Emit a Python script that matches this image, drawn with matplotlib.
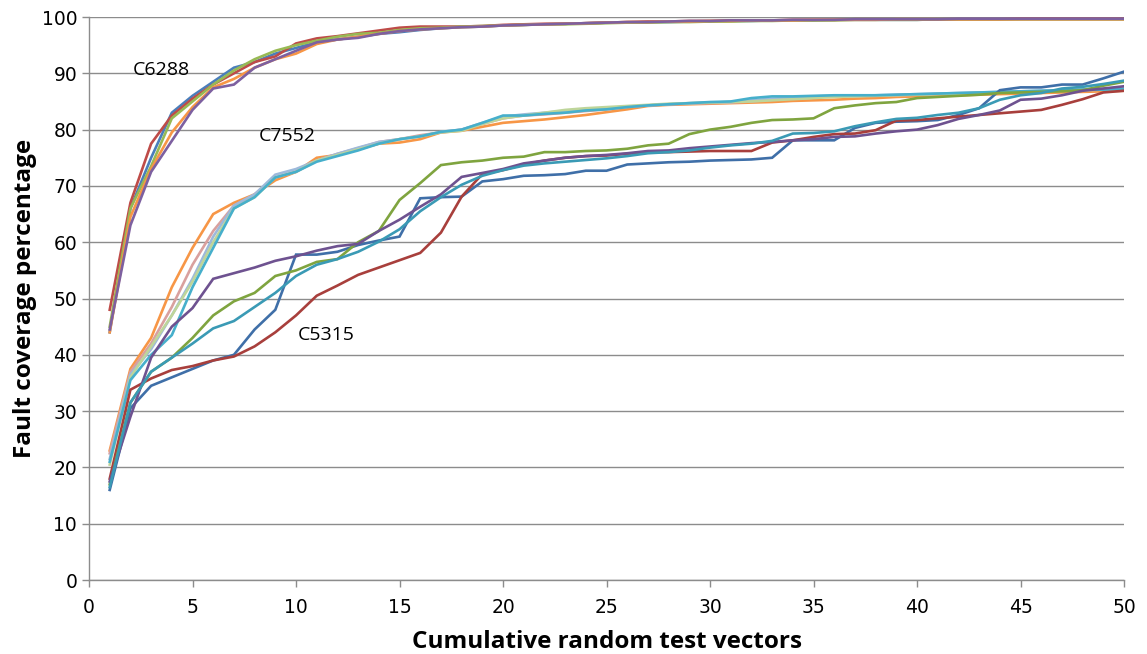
import numpy as np
import matplotlib
matplotlib.use("Agg")
import matplotlib.pyplot as plt

# кумулятивное число случайных тестовых векторов
vectors = np.arange(1, 51)

# C6288 (5 прогонов)
c6288_blue = [44, 66, 75, 83, 86, 88.5, 91, 92, 93.5, 94.5, 95.5, 96, 96.5, 97, 97.3, 97.7, 98, 98.2, 98.3, 98.5,
              98.6, 98.7, 98.8, 98.9, 99, 99, 99.1, 99.1, 99.2, 99.2, 99.3, 99.3, 99.4, 99.4, 99.4, 99.5, 99.5, 99.5, 99.5, 99.5,
              99.6, 99.6, 99.6, 99.6, 99.6, 99.6, 99.6, 99.6, 99.6, 99.6]
c6288_red = [48, 67, 77.5, 82.5, 85.5, 88, 90, 92, 93, 95.3, 96.2, 96.6, 97.1, 97.6, 98.1, 98.3, 98.3, 98.3, 98.4, 98.6,
             98.7, 98.8, 98.8, 98.9, 99, 99.1, 99.2, 99.2, 99.3, 99.3, 99.4, 99.4, 99.4, 99.5, 99.5, 99.5, 99.6, 99.6, 99.6, 99.6,
             99.6, 99.6, 99.6, 99.6, 99.7, 99.7, 99.7, 99.7, 99.7, 99.7]
c6288_green = [45, 66, 73.5, 82, 85, 88, 90.5, 92.5, 94, 95, 95.8, 96.5, 97, 97.2, 97.7, 98, 98.1, 98.3, 98.4, 98.5,
               98.6, 98.7, 98.7, 98.8, 98.9, 99, 99, 99.1, 99.1, 99.2, 99.2, 99.3, 99.3, 99.4, 99.4, 99.4, 99.5, 99.5, 99.5, 99.5,
               99.6, 99.6, 99.6, 99.6, 99.6, 99.6, 99.6, 99.6, 99.6, 99.6]
c6288_orange = [44, 64.5, 73, 79.5, 84, 87.5, 89, 91, 92.5, 93.5, 95.2, 96, 96.5, 97, 97.5, 97.8, 98, 98.2, 98.3, 98.5,
                98.6, 98.7, 98.8, 98.9, 99, 99.1, 99.1, 99.2, 99.2, 99.3, 99.3, 99.4, 99.4, 99.4, 99.5, 99.5, 99.5, 99.5, 99.6, 99.6,
                99.6, 99.6, 99.6, 99.6, 99.6, 99.6, 99.6, 99.6, 99.6, 99.6]
c6288_purple = [44.5, 63, 72.5, 78, 83.5, 87.3, 88, 91, 92.5, 94, 95.5, 96, 96.3, 97, 97.5, 97.8, 98, 98.2, 98.3, 98.5,
                98.6, 98.7, 98.8, 98.9, 99, 99.1, 99.1, 99.2, 99.3, 99.3, 99.4, 99.4, 99.4, 99.5, 99.5, 99.5, 99.6, 99.6, 99.6, 99.6,
                99.6, 99.7, 99.7, 99.7, 99.7, 99.7, 99.7, 99.7, 99.7, 99.7]

# C7552 (5 прогонов)
c7552_orange = [23, 37.5, 43, 52, 59, 65, 67, 68.5, 71, 72.5, 75, 75.5, 76.5, 77.5, 77.7, 78.3, 79.5, 79.8, 80.5, 81.2,
                81.5, 81.8, 82.2, 82.6, 83.1, 83.6, 84.2, 84.4, 84.5, 84.6, 84.7, 84.8, 84.9, 85.1, 85.2, 85.3, 85.5, 85.6, 85.8, 85.9,
                86, 86.1, 86.2, 86.3, 86.4, 86.5, 86.6, 86.7, 86.8, 86.9]
c7552_pink = [22.5, 37, 42, 48.5, 56, 62, 66.5, 68.5, 71.5, 72.5, 74.5, 75.7, 76.7, 77.8, 78.3, 79, 79.5, 80, 81, 82,
              82.5, 82.7, 83, 83.3, 83.6, 84, 84.3, 84.5, 84.6, 84.7, 84.8, 85, 85.3, 85.6, 85.8, 85.9, 86, 86, 86.1, 86.2,
              86.3, 86.4, 86.5, 86.6, 86.7, 86.8, 86.9, 87, 87.1, 87.2]
c7552_lblue = [21.5, 36.5, 41, 47, 53.5, 61, 66.5, 68.5, 72, 73, 74.5, 75.7, 76.8, 77.8, 78.3, 78.8, 79.6, 80, 81.2, 82.3,
               82.7, 83, 83.3, 83.6, 83.8, 84.1, 84.3, 84.5, 84.7, 84.8, 84.9, 85.2, 85.5, 85.7, 85.9, 86, 86, 86.1, 86.2, 86.3,
               86.4, 86.5, 86.6, 86.7, 86.8, 86.9, 87, 87.1, 87.2, 87.3]
c7552_lgreen = [20.5, 36, 41.5, 47, 53, 60, 66, 68, 71.5, 72.5, 74.5, 75.5, 76.5, 77.5, 78.3, 78.8, 79.5, 79.8, 81, 82,
                82.5, 83, 83.5, 83.8, 84, 84.2, 84.4, 84.6, 84.7, 84.8, 84.9, 85, 85.2, 85.4, 85.6, 85.8, 85.9, 86, 86.1, 86.2,
                86.3, 86.4, 86.5, 86.6, 86.7, 86.8, 86.9, 87, 87.1, 87.2]
c7552_cyan = [21, 35.5, 40, 43.5, 52, 59, 66, 68, 71.5, 72.5, 74.3, 75.3, 76.3, 77.5, 78.3, 78.8, 79.6, 80, 81.2, 82.5,
              82.5, 82.8, 83, 83.4, 83.6, 84, 84.3, 84.5, 84.7, 84.9, 85, 85.6, 85.9, 85.9, 86, 86.1, 86.1, 86.1, 86.2, 86.3,
              86.4, 86.5, 86.6, 86.7, 86.8, 86.9, 87, 87.1, 87.1, 87.2]

# C5315 (5 прогонов)
c5315_blue = [16, 30.5, 34.5, 36, 37.5, 39, 40, 44.5, 48, 57.8, 57.8, 58.3, 59.5, 60.3, 61, 67.8, 68, 68.1, 70.8, 71.2,
              71.8, 71.9, 72.1, 72.7, 72.7, 73.8, 74, 74.2, 74.3, 74.5, 74.6, 74.7, 75, 78.1, 78.1, 78.1, 80.3, 81.2, 81.4, 81.5,
              81.7, 82.6, 83.8, 87, 87.5, 87.5, 88, 88, 89.1, 90.3]
c5315_red = [18, 33.8, 35.8, 37.3, 38, 39, 39.7, 41.5, 44, 47, 50.5, 52.3, 54.2, 55.5, 56.8, 58.1, 61.7, 68.1, 72.1, 72.8,
             73.8, 74.5, 75, 75.3, 75.4, 75.7, 76, 76, 76.1, 76.2, 76.2, 76.2, 77.7, 78.1, 78.7, 79.2, 79.3, 79.9, 81.6, 81.7,
             82, 82.3, 82.6, 82.9, 83.2, 83.5, 84.4, 85.4, 86.6, 86.9]
c5315_green = [17, 31.5, 37, 39.5, 43, 47, 49.5, 51, 54, 55, 56.5, 57, 60, 62, 67.5, 70.5, 73.7, 74.2, 74.5, 75,
               75.2, 76, 76, 76.2, 76.3, 76.6, 77.2, 77.5, 79.2, 80, 80.5, 81.2, 81.7, 81.8, 82, 83.8, 84.3, 84.7, 84.9, 85.6,
               85.8, 86, 86.2, 86.5, 86.6, 86.7, 86.8, 87, 87.8, 88.5]
c5315_purple = [17.5, 29, 39.5, 45, 48.3, 53.5, 54.5, 55.5, 56.7, 57.5, 58.5, 59.3, 59.7, 62, 64, 66.3, 68.5, 71.6, 72.3, 73,
                74, 74.5, 75, 75.3, 75.5, 75.8, 76.2, 76.3, 76.7, 77, 77.3, 77.6, 77.8, 78.1, 78.3, 78.7, 78.8, 79.3, 79.7, 80,
                80.8, 81.9, 82.6, 83.4, 85.3, 85.5, 86.1, 86.9, 87.3, 87.7]
c5315_teal = [16.5, 31.5, 37, 39.5, 42, 44.7, 46, 48.5, 51, 54, 56, 57, 58.3, 60.1, 62.3, 65.5, 68, 70.2, 71.8, 72.8,
              73.6, 74, 74.3, 74.6, 74.9, 75.3, 75.8, 76, 76.3, 76.8, 77.2, 77.5, 78, 79.3, 79.4, 79.7, 80.6, 81.3, 81.9, 82.1,
              82.6, 83, 83.8, 85.3, 86.1, 86.5, 87.3, 87.6, 88.1, 88.7]

series = [
    (c6288_blue, "#4A7EBB"), (c6288_red, "#BE4B48"), (c6288_green, "#98B954"),
    (c6288_orange, "#F79646"), (c6288_purple, "#7D60A0"),
    (c7552_orange, "#F79646"), (c7552_pink, "#D9A09E"), (c7552_lblue, "#9DB9DB"),
    (c7552_lgreen, "#BED59A"), (c7552_cyan, "#46AFCB"),
    (c5315_blue, "#3F6FA8"), (c5315_red, "#A83F3C"), (c5315_green, "#7FA43F"),
    (c5315_purple, "#6E5290"), (c5315_teal, "#3A9AB5"),
]

fig, ax = plt.subplots(figsize=(11.47, 6.54), dpi=100)
ax.set_position([0.0776, 0.1131, 0.9024, 0.8609])

for vals, col in series:
    ax.plot(vectors, vals, color=col, lw=1.9, solid_joinstyle="miter")

ax.set_xlim(0, 50)
ax.set_ylim(0, 100)
ax.set_xticks(range(0, 51, 5))
ax.set_yticks(range(0, 101, 10))
ax.yaxis.grid(True, color="#8C8C8C", lw=1)
ax.set_axisbelow(True)
for s in ["top", "right"]:
    ax.spines[s].set_visible(False)
for s in ["left", "bottom"]:
    ax.spines[s].set_color("#8C8C8C")
    ax.spines[s].set_linewidth(1)
ax.tick_params(axis="both", colors="#8C8C8C", length=5, width=1, labelcolor="black")
ax.tick_params(axis="x", pad=8)
for lab in ax.get_xticklabels() + ax.get_yticklabels():
    lab.set_family(["Liberation Sans Narrow", "DejaVu Sans"])
    lab.set_fontsize(13.5)

ax.set_xlabel("Cumulative random test vectors", fontsize=17.5, fontweight="bold",
              family=["Open Sans", "DejaVu Sans"], labelpad=9)
ax.set_ylabel("Fault coverage percentage", fontsize=17.5, fontweight="bold",
              family=["Open Sans", "DejaVu Sans"], labelpad=3)

ax.text(2.1, 90.6, "C6288", fontsize=14, va="center", family=["Open Sans", "DejaVu Sans"])
ax.text(8.2, 78.9, "C7552", fontsize=14, va="center", family=["Open Sans", "DejaVu Sans"])
ax.text(10.1, 43.5, "C5315", fontsize=14, va="center", family=["Open Sans", "DejaVu Sans"])

plt.savefig("out.png", dpi=100)
